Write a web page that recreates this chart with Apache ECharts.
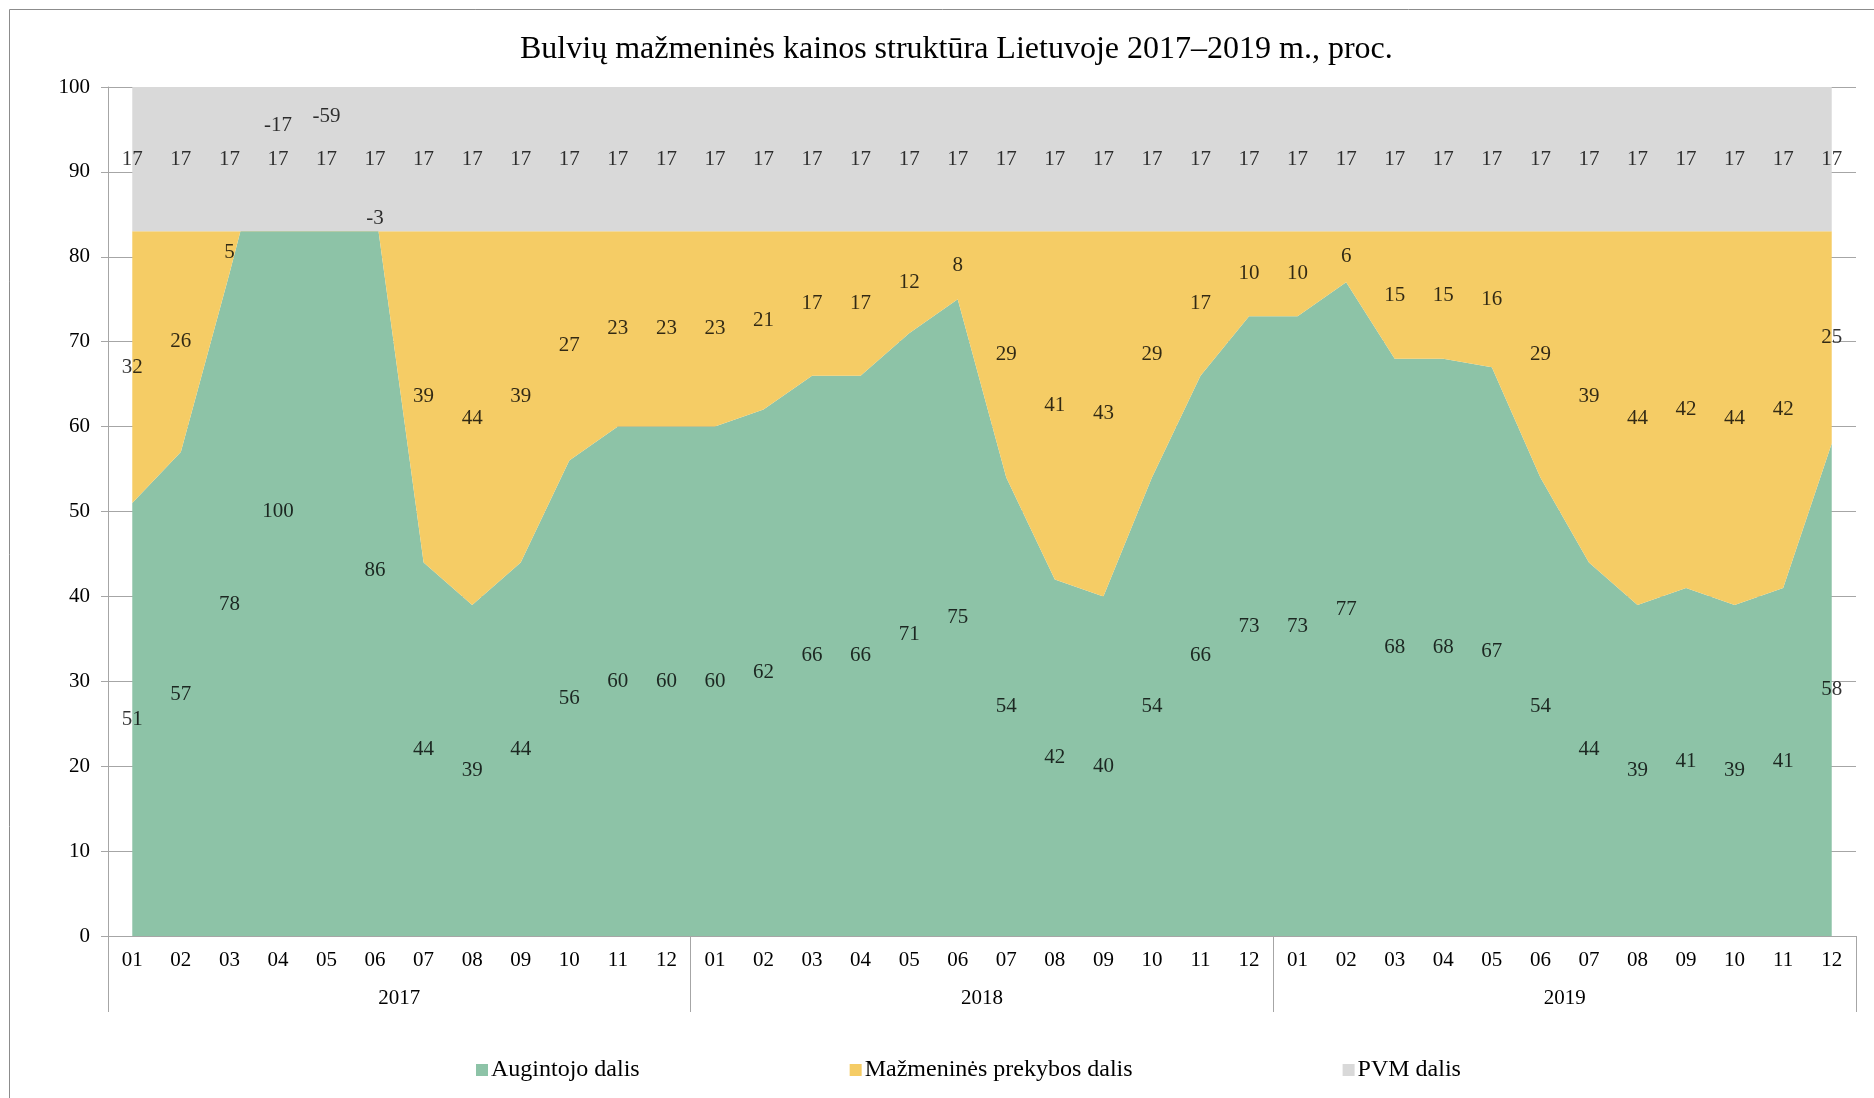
<!DOCTYPE html>
<html>
<head>
<meta charset="utf-8">
<title>Bulvių mažmeninės kainos struktūra</title>
<script src="https://cdn.jsdelivr.net/npm/echarts@6/dist/echarts.min.js"></script>
<style>
  html, body { margin: 0; padding: 0; background: #fff; }
  #chart { width: 1874px; height: 1098px; }
</style>
</head>
<body>
<div id="chart"></div>
<script>
  // duomenys
  var menesiai = ['01','02','03','04','05','06','07','08','09','10','11','12',
                  '01','02','03','04','05','06','07','08','09','10','11','12',
                  '01','02','03','04','05','06','07','08','09','10','11','12'];
  var metai = ['2017', '2018', '2019'];
  var augintojo = [51, 57, 78, 100, 142, 86, 44, 39, 44, 56, 60, 60,
                   60, 62, 66, 66, 71, 75, 54, 42, 40, 54, 66, 73,
                   73, 77, 68, 68, 67, 54, 44, 39, 41, 39, 41, 58];
  var prekybos = [32, 26, 5, -17, -59, -3, 39, 44, 39, 27, 23, 23,
                  23, 21, 17, 17, 12, 8, 29, 41, 43, 29, 17, 10,
                  10, 6, 15, 15, 16, 29, 39, 44, 42, 44, 42, 25];
  var pvm = [17, 17, 17, 17, 17, 17, 17, 17, 17, 17, 17, 17,
             17, 17, 17, 17, 17, 17, 17, 17, 17, 17, 17, 17,
             17, 17, 17, 17, 17, 17, 17, 17, 17, 17, 17, 17];

  var FONT = '"Liberation Serif", "Times New Roman", serif';
  var GRAY = '#a6a6a6';
  var spalvos = ['#8dc3a7', '#f5cc65', '#d9d9d9'];

  // etiketės dedamos ploto viduryje, kaip Excel'yje
  var zAug = [], zPrek = [], zPvm = [];
  for (var i = 0; i < menesiai.length; i++) {
    var g = augintojo[i], p = prekybos[i];
    if (g <= 100) zAug.push([i, g / 2, g]);
    var m = g + p / 2;
    if (p < 0 && m > 88) m = Math.min(96.5, m + 4);
    zPrek.push([i, m, p]);
    zPvm.push([i, g + p + pvm[i] / 2, pvm[i]]);
  }

  function plotas(name, data, c) {
    return {
      name: name,
      type: 'line',
      stack: 'viso',
      stackStrategy: 'all',
      data: data,
      symbol: 'none',
      lineStyle: { width: 0 },
      itemStyle: { color: c },
      areaStyle: { color: c, opacity: 1 },
      silent: true
    };
  }
  function etiketes(data) {
    return {
      type: 'scatter',
      data: data,
      symbolSize: 0,
      silent: true,
      z: 10,
      label: {
        show: true,
        position: 'inside',
        color: '#000',
        fontFamily: FONT,
        fontSize: 21,
        formatter: function (p) { return p.data[2]; }
      }
    };
  }

  var chart = echarts.init(document.getElementById('chart'));
  chart.setOption({
    animation: false,
    backgroundColor: '#fff',
    title: {
      text: 'Bulvių mažmeninės kainos struktūra Lietuvoje 2017–2019 m., proc.',
      left: 515,
      top: 29,
      textStyle: { fontFamily: FONT, fontSize: 32, fontWeight: 'normal', color: '#000' }
    },
    graphic: [{
      type: 'rect',
      shape: { x: 9.5, y: 9.5, width: 1900, height: 1120 },
      style: { fill: 'none', stroke: '#8c8c8c', lineWidth: 1 },
      silent: true
    }],
    legend: {
      data: ['Augintojo dalis', 'Mažmeninės prekybos dalis', 'PVM dalis'],
      left: 471,
      top: 1053,
      itemWidth: 12,
      itemHeight: 12,
      itemGap: 210,
      icon: 'rect',
      textStyle: { fontFamily: FONT, fontSize: 24, color: '#000', padding: [0, 0, 0, -2] }
    },
    grid: { left: 108, right: 18, top: 87, bottom: 162 },
    xAxis: [{
      type: 'category',
      data: menesiai,
      boundaryGap: true,
      axisLine: { lineStyle: { color: GRAY, width: 1 } },
      axisTick: { show: false },
      axisLabel: { interval: 0, margin: 14, fontFamily: FONT, fontSize: 21, color: '#000' }
    }, {
      type: 'category',
      data: metai,
      position: 'bottom',
      boundaryGap: true,
      axisLine: { show: false },
      axisTick: { show: true, interval: 0, length: 76, lineStyle: { color: GRAY } },
      axisLabel: { interval: 0, margin: 52, fontFamily: FONT, fontSize: 21, color: '#000' }
    }],
    yAxis: {
      type: 'value',
      min: 0,
      max: 100,
      interval: 10,
      axisLine: { show: true, lineStyle: { color: GRAY } },
      axisTick: { show: true, length: 7, lineStyle: { color: GRAY } },
      splitLine: { lineStyle: { color: GRAY } },
      axisLabel: { margin: 18, fontFamily: FONT, fontSize: 21, color: '#000' }
    },
    series: [
      plotas('Augintojo dalis', augintojo, spalvos[0]),
      plotas('Mažmeninės prekybos dalis', prekybos, spalvos[1]),
      plotas('PVM dalis', pvm, spalvos[2]),
      etiketes(zAug),
      etiketes(zPrek),
      etiketes(zPvm)
    ]
  });
</script>
</body>
</html>
